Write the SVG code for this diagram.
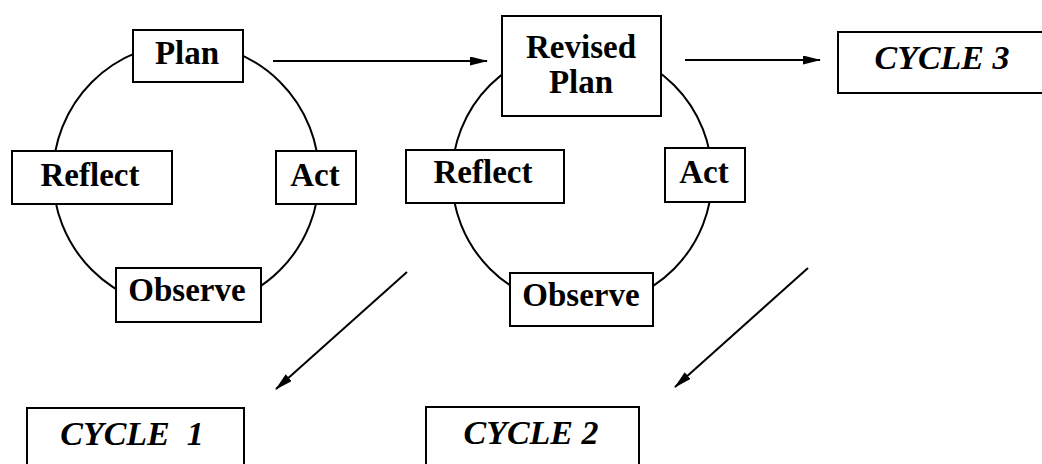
<svg xmlns="http://www.w3.org/2000/svg" width="1042" height="464" viewBox="0 0 1042 464">
<style>
.box{fill:#fff;stroke:#000;stroke-width:2}
.ring{fill:none;stroke:#000;stroke-width:2}
.lbl{font-family:"Liberation Serif","Times New Roman",serif;font-weight:bold;font-size:33px;text-anchor:middle;fill:#000}
.cyc{font-family:"Liberation Serif","Times New Roman",serif;font-weight:bold;font-style:italic;font-size:34px;text-anchor:middle;fill:#000}
.conn{stroke:#000;stroke-width:2;fill:none;marker-end:url(#ah)}
</style>
<defs>
<marker id="ah" viewBox="0 0 18 9" refX="17" refY="4.5" markerWidth="18" markerHeight="9" markerUnits="userSpaceOnUse" orient="auto">
<path d="M0,0 L18,4.5 L0,9 Z" fill="#000"/>
</marker>
</defs>
<g id="rings">
<circle class="ring" cx="186" cy="176" r="133"/>
<circle class="ring" cx="582" cy="177" r="130"/>
</g>
<g id="connectors">
<line class="conn" x1="273" y1="61" x2="487" y2="61"/>
<line class="conn" x1="685" y1="60" x2="820" y2="60"/>
<line class="conn" x1="407" y1="272" x2="276" y2="389"/>
<line class="conn" x1="808" y1="268" x2="675" y2="387"/>
</g>
<g id="plan1"><rect class="box" x="133" y="30" width="110" height="52"/><text class="lbl" x="187" y="64">Plan</text></g>
<g id="reflect1"><rect class="box" x="12" y="151" width="160" height="53"/><text class="lbl" x="90" y="186">Reflect</text></g>
<g id="act1"><rect class="box" x="276" y="151" width="80" height="53"/><text class="lbl" x="315" y="186">Act</text></g>
<g id="observe1"><rect class="box" x="116" y="268" width="145" height="54"/><text class="lbl" x="187" y="301">Observe</text></g>
<g id="revised2"><rect class="box" x="502" y="16" width="159" height="100"/><text class="lbl" x="581" y="58">Revised</text><text class="lbl" x="581" y="93">Plan</text></g>
<g id="reflect2"><rect class="box" x="406" y="150" width="158" height="53"/><text class="lbl" x="483" y="183">Reflect</text></g>
<g id="act2"><rect class="box" x="665" y="148" width="80" height="54"/><text class="lbl" x="704" y="183">Act</text></g>
<g id="observe2"><rect class="box" x="510" y="273" width="143" height="53"/><text class="lbl" x="581" y="306">Observe</text></g>
<g id="cycle3"><rect class="box" x="838" y="32" width="210" height="61"/><text class="cyc" x="942" y="69">CYCLE 3</text></g>
<g id="cycle1"><rect class="box" x="27" y="408" width="217" height="70"/><text class="cyc" x="132" y="445" xml:space="preserve">CYCLE  1</text></g>
<g id="cycle2"><rect class="box" x="426" y="407" width="213" height="70"/><text class="cyc" x="531" y="444">CYCLE 2</text></g>
</svg>
